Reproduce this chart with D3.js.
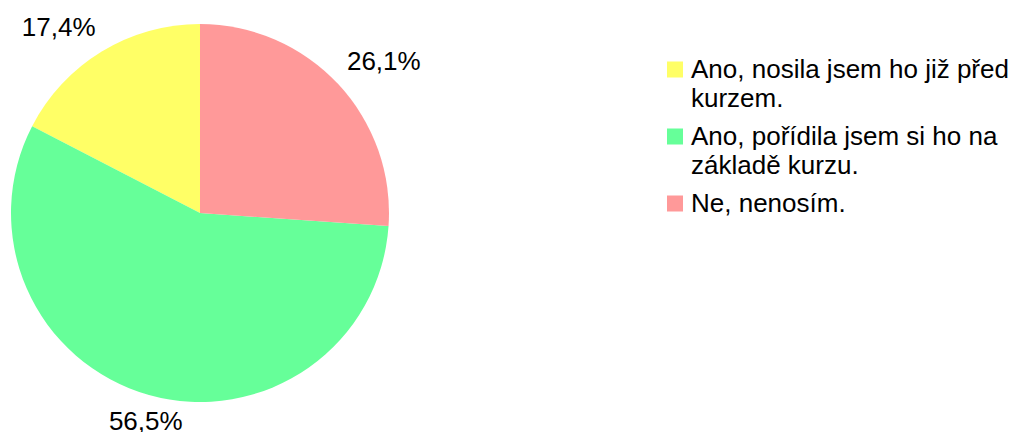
<!DOCTYPE html>
<html>
<head>
<meta charset="utf-8">
<script src="https://cdn.jsdelivr.net/npm/d3@7"></script>
<style>
  html, body { margin: 0; padding: 0; background: #fff; }
  svg { display: block; }
  text { font-family: "Liberation Sans", Arial, sans-serif; fill: #000; }
</style>
</head>
<body>
<svg id="chart" width="1017" height="432"></svg>
<script>
// data
const categories = [
    ["Ano, nosila jsem ho již před", "kurzem."],
    ["Ano, pořídila jsem si ho na", "základě kurzu."],
    ["Ne, nenosím."]
];
const percents = [17.4, 56.5, 26.1];
const colors = ["#ffff66", "#66ff99", "#ff9999"];

const svg = d3.select('#chart');
const fontSize = 26;
const cx = 200, cy = 213, radius = 189;

const data = categories.map((c, i) => ({ label: c, value: percents[i], color: colors[i] }));

// LibreOffice style: first slice from 12 o'clock going counter-clockwise
const pie = d3.pie()
    .sort(null)
    .value(d => d.value)
    .startAngle(0)
    .endAngle(-2 * Math.PI);

const arc = d3.arc().innerRadius(0).outerRadius(radius);

const g = svg.append('g').attr('transform', `translate(${cx},${cy})`);
const arcs = pie(data);

g.selectAll('path')
    .data(arcs)
    .join('path')
    .attr('d', arc)
    .attr('fill', d => d.data.color);

// percentage labels outside the pie
const labelR = 201;
const fmt = v => d3.format('.1f')(v).replace('.', ',') + '%';
g.selectAll('text.pct')
    .data(arcs)
    .join('text')
    .attr('class', 'pct')
    .style('font-size', fontSize + 'px')
    .each(function(d) {
        const a = (d.startAngle + d.endAngle) / 2;
        const s = Math.sin(a), c = Math.cos(a);
        const px = s * labelR, py = -c * labelR;
        let anchor = 'middle';
        if (s > 0.4) anchor = 'start';
        else if (s < -0.4) anchor = 'end';
        const baseline = c > 0 ? py - 0.212 * fontSize : py + 0.905 * fontSize;
        d3.select(this)
            .attr('x', px)
            .attr('y', baseline)
            .attr('text-anchor', anchor)
            .text(fmt(d.data.value));
    });

// legend
const legend = svg.append('g').attr('transform', 'translate(667,0)');
const lineH = 29, itemGap = 9;
let baseY = 78;
data.forEach(d => {
    const item = legend.append('g');
    item.append('rect')
        .attr('x', 0)
        .attr('y', baseY - 16.5)
        .attr('width', 16)
        .attr('height', 16)
        .attr('fill', d.color);
    const t = item.append('text')
        .attr('x', 24)
        .attr('y', baseY)
        .style('font-size', fontSize + 'px');
    d.label.forEach((line, j) => {
        t.append('tspan')
            .attr('x', 24)
            .attr('dy', j === 0 ? 0 : lineH)
            .text(line);
    });
    baseY += d.label.length * lineH + itemGap;
});
</script>
</body>
</html>
